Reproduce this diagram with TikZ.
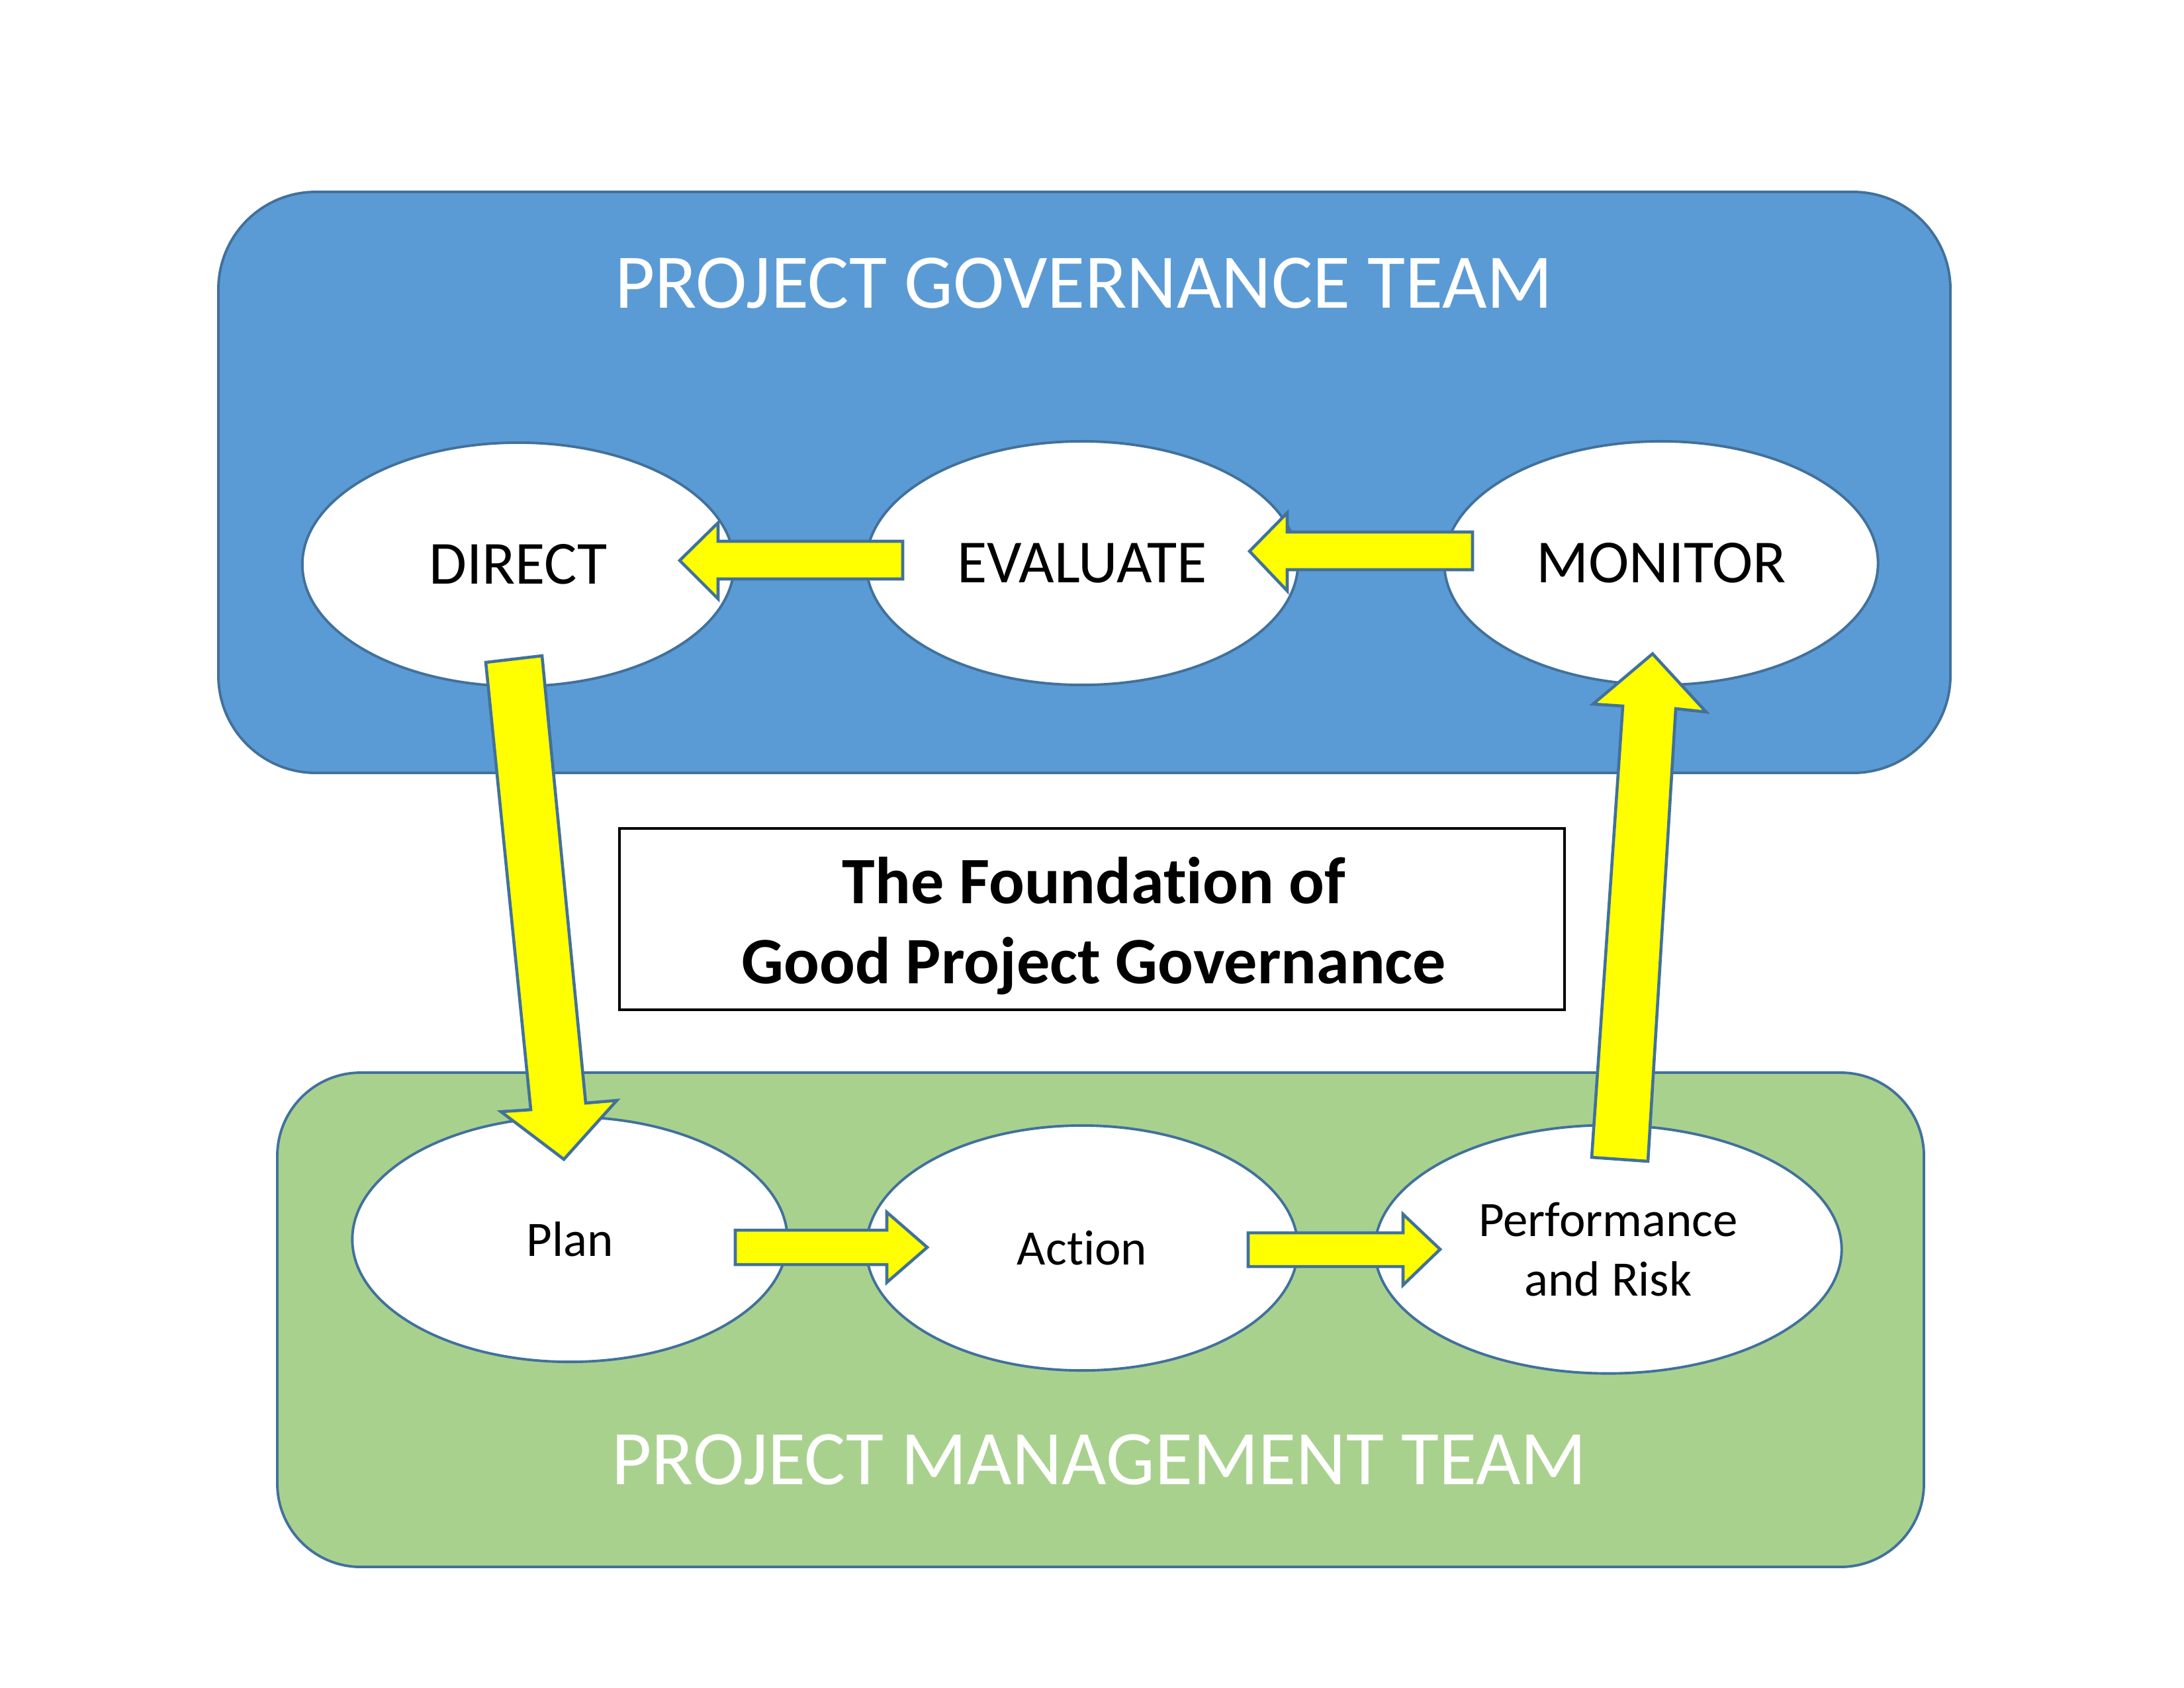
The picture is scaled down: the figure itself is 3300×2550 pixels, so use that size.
\documentclass[tikz,border=0pt]{standalone}
\usepackage{fontspec}
\setmainfont{Carlito}[Ligatures=NoCommon]
\usetikzlibrary{shapes.geometric}
\definecolor{govblue}{HTML}{5B9BD5}
\definecolor{mgmtgreen}{HTML}{A9D18E}
\definecolor{edgeblue}{HTML}{41719C}
\definecolor{arrowyellow}{HTML}{FFFF00}
\begin{document}
\begin{tikzpicture}[x=0.01cm,y=-0.01cm,
  teambox/.style={draw=edgeblue, line width=1.1pt},
  stage/.style={ellipse, draw=edgeblue, fill=white, line width=1.1pt, inner sep=0pt, text=black},
  bigstage/.style={stage, font=\fontsize{26.3}{32}\selectfont},
  smallstage/.style={stage, font=\fontsize{21.3}{25.6}\selectfont, align=center},
  blockarrow/.style={draw=edgeblue, fill=arrowyellow, line width=1.3pt, line join=miter},
  teamtitle/.style={text=white, font=\fontsize{33.2}{40}\selectfont, anchor=base, inner sep=0pt},
  foundbox/.style={draw=black, line width=1pt, fill=white, minimum width=14.27cm, minimum height=2.74cm},
  foundtext/.style={align=center, font=\bfseries\fontsize{28.5}{34.5}\selectfont}
]
\useasboundingbox (0,0) rectangle (3300,2550);
\fill[white] (0,0) rectangle (3300,2550);

% team boxes
\draw[teambox, fill=govblue, rounded corners=1.47cm] (330,290) rectangle (2947,1168);
\draw[teambox, fill=mgmtgreen, rounded corners=1.26cm] (419,1621) rectangle (2907,2368);

\node[teamtitle] (govtitle) at (1638,465) {PROJECT GOVERNANCE TEAM};
\node[teamtitle] (mgmttitle) at (1661,2243) {PROJECT MANAGEMENT TEAM};

% stages
\node[bigstage, minimum width=6.52cm, minimum height=3.68cm] (direct) at (783,853) {DIRECT};
\node[bigstage, minimum width=6.52cm, minimum height=3.68cm] (evaluate) at (1635,851) {EVALUATE};
\node[bigstage, minimum width=6.55cm, minimum height=3.68cm] (monitor) at (2510,851) {MONITOR};
\node[smallstage, minimum width=6.57cm, minimum height=3.70cm] (plan) at (861,1873) {Plan};
\node[smallstage, minimum width=6.52cm, minimum height=3.70cm] (action) at (1635,1886) {Action};
\node[smallstage, minimum width=7.05cm, minimum height=3.75cm] (perf) at (2430,1888) {Performance\\and Risk};

% block arrows
\draw[blockarrow] (1364,818) -- (1085,818) -- (1085,790) -- (1027,847) -- (1085,905) -- (1085,875) -- (1364,875) -- cycle;
\draw[blockarrow] (2225,804) -- (1945,804) -- (1945,775) -- (1888,833) -- (1945,893) -- (1945,861) -- (2225,861) -- cycle;
\draw[blockarrow] (1111,1859) -- (1340,1859) -- (1340,1832) -- (1401,1885) -- (1340,1938) -- (1340,1911) -- (1111,1911) -- cycle;
\draw[blockarrow] (1886,1863) -- (2120,1863) -- (2120,1835) -- (2176,1888) -- (2120,1942) -- (2120,1914) -- (1886,1914) -- cycle;
\draw[blockarrow] (734,1001) -- (819,991) -- (885,1667) -- (932,1663) -- (852,1752) -- (757,1680) -- (802,1677) -- cycle;
\draw[blockarrow] (2405,1749) -- (2490,1755) -- (2532,1071) -- (2578,1076) -- (2497,988) -- (2407,1064) -- (2452,1067) -- cycle;

% foundation box
\node[foundbox] (found) at (1650,1389) {};
\node[foundtext] (foundlabel) at (1653,1399) {The Foundation of\\Good Project Governance};
\end{tikzpicture}
\end{document}
